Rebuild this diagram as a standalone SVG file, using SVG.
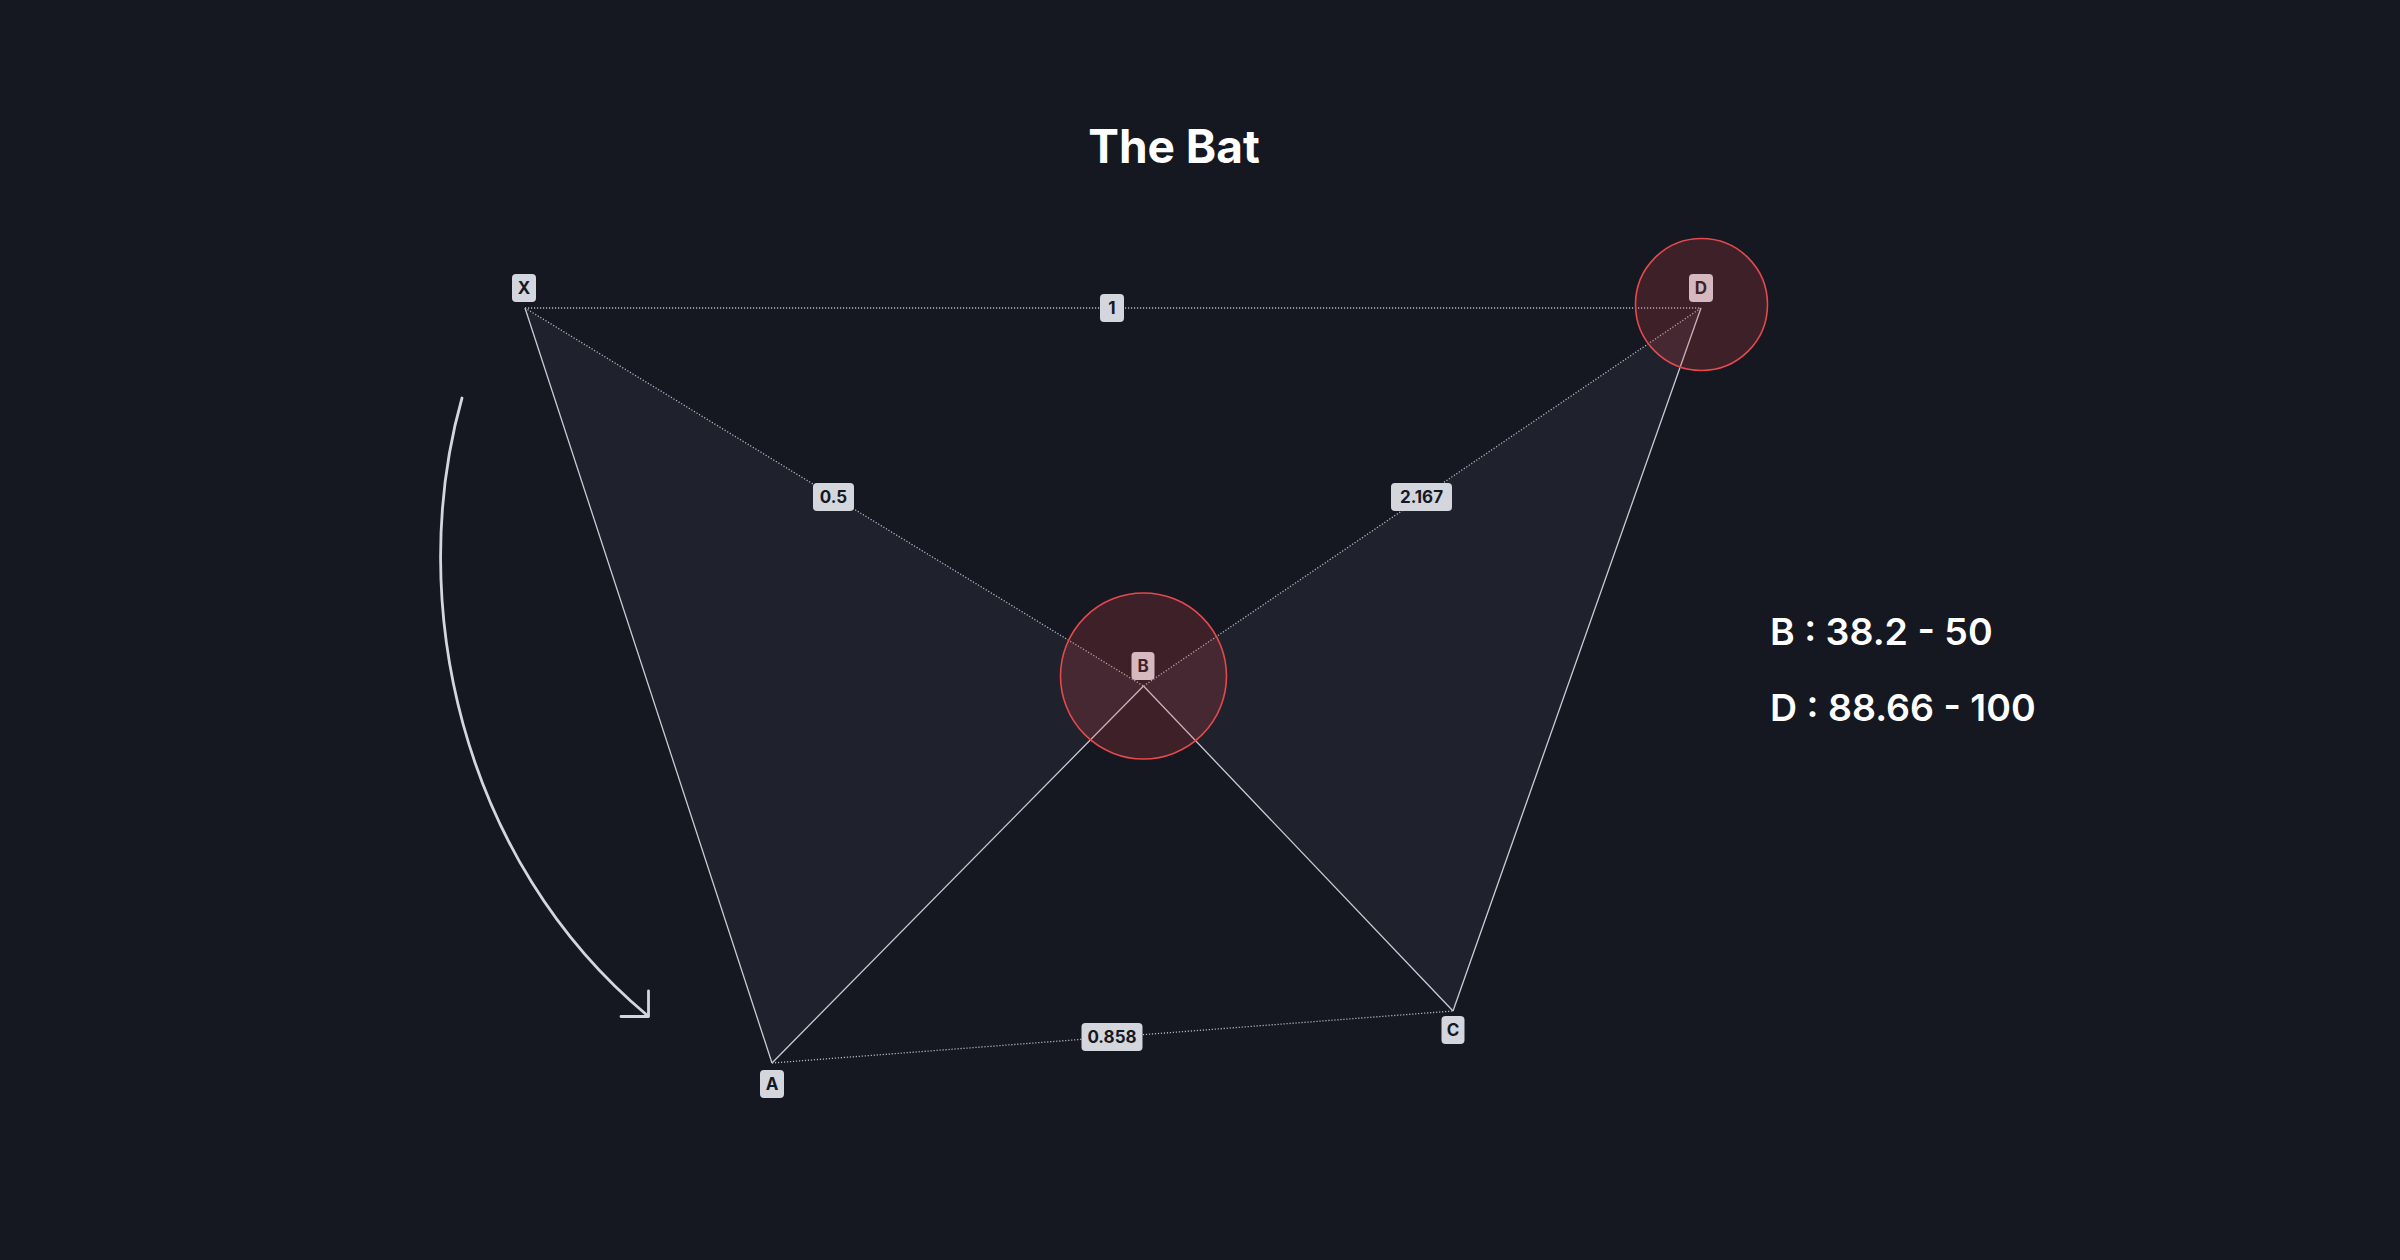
<svg xmlns="http://www.w3.org/2000/svg" width="2400" height="1260" viewBox="0 0 2400 1260">
<defs>
<style>
.bg{fill:#151721}
.wing{fill:#1f212c}
.solid{stroke:#c9ccd4;stroke-width:1.3;fill:none}
.dot{stroke:#b4b7c0;stroke-width:1.3;stroke-dasharray:1.2 1.8;fill:none}
.lbl{fill:#d3d6dd}
.lt{font-family:Inter,"Liberation Sans",sans-serif;font-size:17px;font-weight:700;fill:#16181f;text-anchor:middle}
.zone{fill:#e5484d;fill-opacity:0.2;stroke:#e5484d;stroke-width:1.6}
.title{font-family:Inter,"Liberation Sans",sans-serif;font-size:46px;font-weight:700;fill:#ffffff;text-anchor:middle}
.info{font-family:Inter,"Liberation Sans",sans-serif;font-size:37.5px;font-weight:600;fill:#ffffff}
.arrow{stroke:#d3d6dd;stroke-width:2.8;fill:none;stroke-linecap:round;stroke-linejoin:round}
</style>
</defs>
<rect class="bg" x="0" y="0" width="2400" height="1260"/>
<text class="title" x="1174" y="163">The Bat</text>
<g id="wings">
<polygon class="wing" points="525,308 772,1063 1143.5,686"/>
<polygon class="wing" points="1143.5,686 1453,1011 1701,308"/>
</g>
<g id="connectors">
<line class="solid" x1="525" y1="308" x2="772" y2="1063"/>
<line class="solid" x1="772" y1="1063" x2="1143.5" y2="686"/>
<line class="solid" x1="1143.5" y1="686" x2="1453" y2="1011"/>
<line class="solid" x1="1453" y1="1011" x2="1701" y2="308"/>
<line class="dot" x1="525" y1="308" x2="1701" y2="308"/>
<line class="dot" x1="525" y1="308" x2="1143.5" y2="686"/>
<line class="dot" x1="1143.5" y1="686" x2="1701" y2="308"/>
<line class="dot" x1="772" y1="1063" x2="1453" y2="1011"/>
<g id="edge-label-xd"><rect class="lbl" x="1100" y="294" width="24" height="28" rx="4"/><text class="lt" x="1112" y="314">1</text></g>
<g id="edge-label-xb"><rect class="lbl" x="813" y="483" width="41" height="28" rx="4"/><text class="lt" x="833.5" y="503">0.5</text></g>
<g id="edge-label-bd"><rect class="lbl" x="1391" y="483" width="61" height="28" rx="4"/><text class="lt" x="1421.5" y="503">2.167</text></g>
<g id="edge-label-ac"><rect class="lbl" x="1081.5" y="1023" width="61" height="28" rx="4"/><text class="lt" x="1112" y="1043">0.858</text></g>
</g>
<g id="node-X"><rect class="lbl" x="512" y="274" width="24" height="28" rx="4"/><text class="lt" x="524" y="294">X</text></g>
<g id="node-A"><rect class="lbl" x="760" y="1070" width="24" height="28" rx="4"/><text class="lt" x="772" y="1090">A</text></g>
<g id="node-C"><rect class="lbl" x="1441.5" y="1016" width="23" height="28" rx="4"/><text class="lt" x="1453" y="1036">C</text></g>
<g id="node-B"><rect class="lbl" x="1131.5" y="652" width="23" height="28" rx="4"/><text class="lt" x="1143" y="672">B</text><circle class="zone" cx="1143.5" cy="676" r="83"/></g>
<g id="node-D"><rect class="lbl" x="1689" y="274" width="24" height="28" rx="4"/><text class="lt" x="1701" y="294">D</text><circle class="zone" cx="1701.5" cy="304.5" r="66"/></g>
<g id="direction-arrow">
<path class="arrow" d="M462,398 C405,600 460,860 648,1016"/>
<path class="arrow" d="M648.5,991 L648.5,1016.5 L621,1016.5"/>
</g>
<g id="ranges">
<text class="info" x="1770" y="645">B : 38.2 - 50</text>
<text class="info" x="1770" y="721">D : 88.66 - 100</text>
</g>
</svg>
